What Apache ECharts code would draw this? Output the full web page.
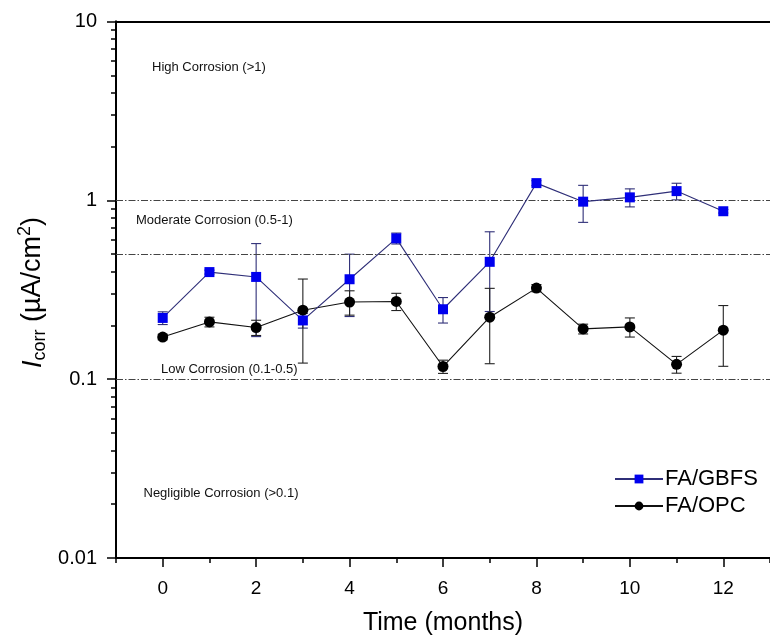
<!DOCTYPE html>
<html>
<head>
<meta charset="utf-8">
<script src="https://cdn.jsdelivr.net/npm/echarts@6/dist/echarts.min.js"></script>
<style>
html,body{margin:0;padding:0;background:#fff;}
#chart{width:770px;height:641px;}
</style>
</head>
<body>
<div id="chart"></div>
<script>
// ---- data ----
const months = [0,1,2,3,4,5,6,7,8,9,10,11,12];
const gbfs    = [0.220,0.397,0.373,0.213,0.362,0.613,0.246,0.453,1.248,0.983,1.039,1.126,0.869];
const gbfsErr = [0.018,0.010,0.200,0.020,0.138,0.043,0.040,0.214,0.040,0.230,0.120,0.120,0.020];
const opc     = [0.172,0.209,0.1945,0.243,0.270,0.272,0.1177,0.222,0.323,0.191,0.196,0.121,0.188];
const opcErr  = [0.006,0.013,0.019,0.120,0.042,0.030,0.010,0.100,0.015,0.012,0.024,0.013,0.070];
const refLines = [1, 0.5, 0.1];
const zoneLabels = ['High Corrosion (>1)','Moderate Corrosion (0.5-1)','Low Corrosion (0.1-0.5)','Negligible Corrosion (>0.1)'];
const xLabelTicks = [0,2,4,6,8,10,12];
const xMinorTicks = [-1,1,3,5,7,9,11,13];
const yMinorTicks = [0.02,0.03,0.04,0.05,0.06,0.07,0.08,0.09,0.2,0.3,0.4,0.5,0.6,0.7,0.8,0.9,2,3,4,5,6,7,8,9];

const FONT = '"Liberation Sans", Arial, Helvetica, sans-serif';
const BLUE = '#0000ee';
const NAVY = '#2f2f78';

function errData(vals, errs){
  return months.map((m,i)=>[m, vals[i]-errs[i], vals[i]+errs[i]]);
}
function errRender(color){
  return function(params, api){
    const x = api.value(0), lo = api.value(1), hi = api.value(2);
    const pH = api.coord([x, hi]), pL = api.coord([x, lo]);
    const w = 5;
    const st = {stroke: color, lineWidth: 1.1};
    return {type:'group', children:[
      {type:'line', shape:{x1:pH[0],y1:pH[1],x2:pL[0],y2:pL[1]}, style:st},
      {type:'line', shape:{x1:pH[0]-w,y1:pH[1],x2:pH[0]+w,y2:pH[1]}, style:st},
      {type:'line', shape:{x1:pL[0]-w,y1:pL[1],x2:pL[0]+w,y2:pL[1]}, style:st}
    ]};
  };
}

// y-axis title pieces (rotated)
const ctx = document.createElement('canvas').getContext('2d');
function tw(text, font){ ctx.font = font; return ctx.measureText(text).width; }
const MAIN = 27, SMALL = 18;
const pieces = [
  {t:'I', f:'italic ' + MAIN + 'px ' + FONT, dy:0},
  {t:'corr', f:SMALL + 'px ' + FONT, dy:7},
  {t:' (\u00b5A/cm', f:MAIN + 'px ' + FONT, dy:0},
  {t:'2', f:SMALL + 'px ' + FONT, dy:-8},
  {t:')', f:MAIN + 'px ' + FONT, dy:0}
];
let cx = 0;
const yTitleChildren = pieces.map(p=>{
  const el = {type:'text', x:cx, y:p.dy, style:{text:p.t, font:p.f, fill:'#000', align:'left', verticalAlign:'middle'}};
  cx += tw(p.t, p.f);
  return el;
});

const chart = echarts.init(document.getElementById('chart'), null, {renderer:'canvas'});

const axisLine = {show:true, onZero:false, lineStyle:{color:'#000', width:2}};

const option = {
  backgroundColor:'#fff',
  animation:false,
  grid:{left:116, top:21.5, width:662, height:539.3, containLabel:false},
  legend:{
    data:['FA/GBFS','FA/OPC'],
    left:614, top:468, orient:'vertical', padding:0,
    itemWidth:48, itemHeight:11, itemGap:5,
    textStyle:{fontFamily:FONT, fontSize:22, color:'#000', padding:[0,0,0,-3]}
  },
  xAxis:[
    {type:'value', min:-1, max:13, position:'bottom',
     axisLine:axisLine,
     axisTick:{show:true, length:9, lineStyle:{color:'#000', width:1.5}, customValues:xLabelTicks},
     axisLabel:{show:true, customValues:xLabelTicks, margin:21, fontFamily:FONT, fontSize:19, color:'#000'},
     splitLine:{show:false},
     name:'Time (months)', nameLocation:'middle', nameGap:53,
     nameTextStyle:{fontFamily:FONT, fontSize:25, color:'#000'}},
    {type:'value', min:-1, max:13, position:'bottom',
     axisLine:axisLine,
     axisTick:{show:true, length:5, lineStyle:{color:'#000', width:1.5}, customValues:xMinorTicks},
     axisLabel:{show:false}, splitLine:{show:false}},
    {type:'value', min:-1, max:13, position:'top',
     axisLine:axisLine, axisTick:{show:false}, axisLabel:{show:false}, splitLine:{show:false}}
  ],
  yAxis:[
    {type:'log', logBase:10, min:0.01, max:10, position:'left',
     axisLine:axisLine,
     axisTick:{show:true, length:9, lineStyle:{color:'#000', width:1.5}},
     axisLabel:{margin:19, fontFamily:FONT, fontSize:20, color:'#000',
       formatter:function(v){ return String(parseFloat(Number(v).toPrecision(6))); }},
     splitLine:{show:false}},
    {type:'log', logBase:10, min:0.01, max:10, position:'left',
     axisLine:axisLine,
     axisTick:{show:true, length:5, lineStyle:{color:'#000', width:1.5}, customValues:yMinorTicks},
     axisLabel:{show:false}, splitLine:{show:false}}
  ],
  series:[
    {name:'ref', type:'line', data:[], xAxisIndex:0, yAxisIndex:0, silent:true,
     markLine:{symbol:'none', silent:true, label:{show:false},
       lineStyle:{color:'#444', width:1, type:[7,2,1.5,2]},
       data:refLines.map(v=>({yAxis:v}))}},
    {name:'gbfsErr', type:'custom', xAxisIndex:0, yAxisIndex:0, z:3,
     renderItem:errRender(NAVY), data:errData(gbfs, gbfsErr), silent:true},
    {name:'opcErr', type:'custom', xAxisIndex:0, yAxisIndex:0, z:3,
     renderItem:errRender('#222'), data:errData(opc, opcErr), silent:true},
    {name:'FA/OPC', type:'line', xAxisIndex:0, yAxisIndex:0, z:4,
     data:months.map((m,i)=>[m, opc[i]]),
     symbol:'circle', symbolSize:11,
     itemStyle:{color:'#000'}, lineStyle:{color:'#111', width:1.1}},
    {name:'FA/GBFS', type:'line', xAxisIndex:0, yAxisIndex:0, z:5,
     data:months.map((m,i)=>[m, gbfs[i]]),
     symbol:'rect', symbolSize:10,
     itemStyle:{color:BLUE}, lineStyle:{color:NAVY, width:1.1}}
  ],
  graphic:[
    {type:'text', left:152, top:61, style:{text:zoneLabels[0], font:'13px ' + FONT, fill:'#111'}},
    {type:'text', left:136, top:214, style:{text:zoneLabels[1], font:'13px ' + FONT, fill:'#111'}},
    {type:'text', left:161, top:362.5, style:{text:zoneLabels[2], font:'13px ' + FONT, fill:'#111'}},
    {type:'text', left:143.5, top:487, style:{text:zoneLabels[3], font:'13px ' + FONT, fill:'#111'}},
    {type:'group', x:33, y:368, rotation:Math.PI/2, children:yTitleChildren}
  ]
};
chart.setOption(option);
</script>
</body>
</html>
